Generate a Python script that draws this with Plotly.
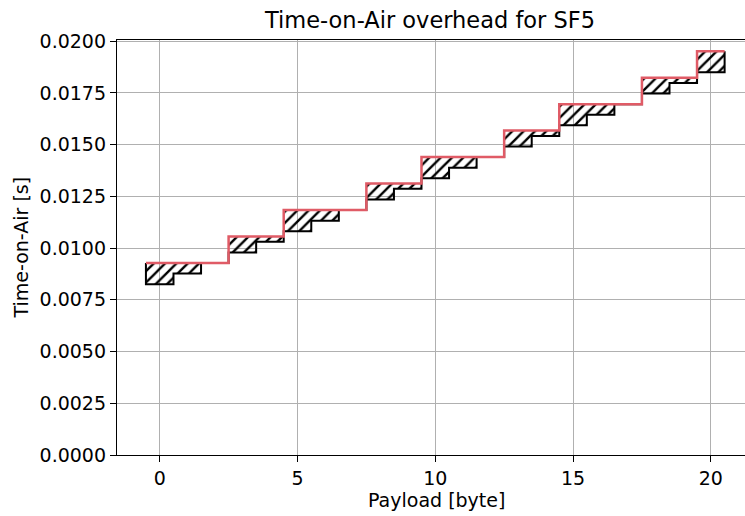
import plotly.graph_objects as go

# Payload sizes and time-on-air (seconds) for LoRa SF5
payload = list(range(21))
toa_exact = [0.008256, 0.008768, 0.009280, 0.009792, 0.010304, 0.010816, 0.011328,
             0.011840, 0.012352, 0.012864, 0.013376, 0.013888, 0.014400, 0.014912,
             0.015424, 0.015936, 0.016448, 0.016960, 0.017472, 0.017984, 0.018496]
toa_actual = [0.009280, 0.009280, 0.009280, 0.010560, 0.010560, 0.011840, 0.011840,
              0.011840, 0.013120, 0.013120, 0.014400, 0.014400, 0.014400, 0.015680,
              0.015680, 0.016960, 0.016960, 0.016960, 0.018240, 0.018240, 0.019520]
x_ticks = [0, 5, 10, 15, 20]
y_ticks = [0.0, 0.0025, 0.005, 0.0075, 0.01, 0.0125, 0.015, 0.0175, 0.02]

FONT = "DejaVu Sans"
RED = "#e05b66"


def mid_steps(xs, ys):
    """Expand points into a step outline centred on each x."""
    px, py = [], []
    for x, y in zip(xs, ys):
        px += [x - 0.5, x + 0.5]
        py += [y, y]
    return px, py


bx, by = mid_steps(payload, toa_exact)
rx, ry = mid_steps(payload, toa_actual)

fig = go.Figure()

# hatched overhead region between the exact and the actual time-on-air
fig.add_trace(go.Scatter(
    x=rx + bx[::-1], y=ry + by[::-1],
    mode="lines", fill="toself",
    fillcolor="rgba(0,0,0,0)",
    fillpattern=dict(shape="/", fgcolor="black", fgopacity=1,
                     bgcolor="rgba(0,0,0,0)", size=8, solidity=0.3),
    line=dict(color="black", width=0),
    hoverinfo="skip", showlegend=False,
))
# exact time-on-air, closed at both ends of the overhead region
fig.add_trace(go.Scatter(
    x=[bx[0]] + bx + [bx[-1]],
    y=[ry[0]] + by + [ry[-1]],
    mode="lines", line=dict(color="black", width=2), showlegend=False))
fig.add_trace(go.Scatter(x=rx, y=ry, mode="lines",
                         line=dict(color=RED, width=2.5), showlegend=False))

axis_common = dict(
    showgrid=True, gridcolor="#b0b0b0", gridwidth=1.3,
    showline=True, linecolor="black", linewidth=1.3,
    ticks="outside", ticklen=6, tickwidth=1.3, tickcolor="black",
    tickfont=dict(family=FONT, size=19, color="black"),
    zeroline=False,
)

fig.update_xaxes(range=[-1.55, 21.24], tickvals=x_ticks, mirror=True, **axis_common)
fig.update_yaxes(range=[0, 0.02006], tickvals=y_ticks, tickformat=".4f",
                 mirror=False, **axis_common)

fig.update_layout(
    width=745, height=516,
    margin=dict(l=117, r=0, t=40, b=61),
    plot_bgcolor="white", paper_bgcolor="white",
    font=dict(family=FONT, color="black"),
    annotations=[
        dict(text="Time-on-Air overhead for SF5", xref="paper", yref="paper",
             x=0.497, y=1, yshift=20, xanchor="center", yanchor="middle",
             showarrow=False, font=dict(family=FONT, size=22.5, color="black")),
        dict(text="Payload [byte]", xref="paper", yref="paper",
             x=0.508, y=0, yshift=-45, xanchor="center", yanchor="middle",
             showarrow=False, font=dict(family=FONT, size=19, color="black")),
        dict(text="Time-on-Air [s]", xref="paper", yref="paper",
             x=0, xshift=-97, y=0.5, xanchor="center", yanchor="middle",
             textangle=-90, showarrow=False,
             font=dict(family=FONT, size=19, color="black")),
    ],
)

fig.write_html("out.html")
